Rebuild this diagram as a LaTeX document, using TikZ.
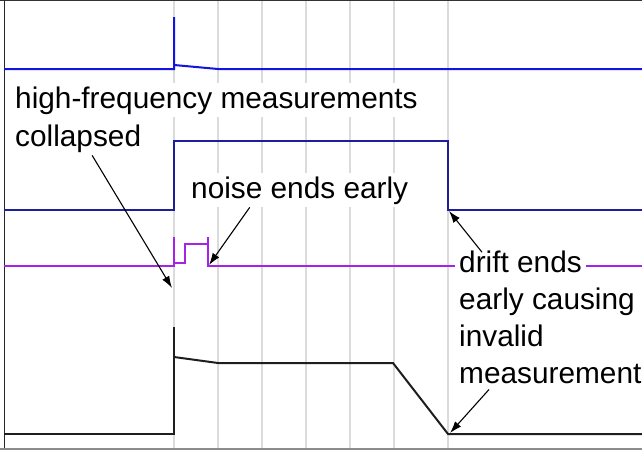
\documentclass[tikz,border=0pt]{standalone}
\usepackage{fontspec}
\setmainfont{Liberation Sans}
\usetikzlibrary{arrows.meta}

\definecolor{sigone}{RGB}{20,20,225}
\definecolor{sigtwo}{RGB}{30,30,155}
\definecolor{sigthree}{RGB}{165,35,230}
\definecolor{sigfour}{RGB}{30,30,30}

\begin{document}
\begin{tikzpicture}[x=1pt,y=-1pt,
    gridline/.style={draw=gray!28,line width=1.5pt},
    sig/.style={line width=2pt},
    lbl/.style={anchor=base west,fill=white,inner xsep=4pt,inner ysep=3pt,
      font=\fontsize{29.8pt}{36pt}\selectfont},
    callout/.style={draw=black,line width=1.1pt,-{Latex[length=12pt,width=8pt]}}]
        \useasboundingbox (0,0) rectangle (642,450);

        % grid
        \foreach \gx in {174,218,262,306,350,394,448}
          \draw[gridline] (\gx,0) -- (\gx,448);

        % frame
        \draw[draw=black!80,line width=1pt] (0,0.5) -- (642,0.5);
        \draw[draw=black!85,line width=1.5pt] (4.5,0) -- (4.5,450);
        \draw[draw=gray!90,line width=2.5pt] (0,448.8) -- (642,448.8);

        % signals
        \draw[sig,sigone] (4,69) -- (174,69) -- (174,17) -- (174,65) -- (218,69) -- (642,69);
        \draw[sig,sigtwo] (4,210) -- (174,210) -- (174,141) -- (448,141) -- (448,210) -- (642,210);
        \draw[sig,sigthree] (4,266) -- (174,266) -- (174,237);
        \draw[sig,sigthree] (174,263) -- (185,263) -- (185,244) -- (208,244);
        \draw[sig,sigthree] (208,237) -- (208,266) -- (642,266);
        \draw[sig,sigfour] (4,434) -- (174,434) -- (174,327);
        \draw[sig,sigfour] (174,357) -- (218,363) -- (393,363) -- (448,434) -- (642,434);

        % labels
        \node[lbl] (lblhigh) at (11,108) {high-frequency measurements};
        \node[lbl] (lblcol) at (11,146) {collapsed};
        \node[lbl] (lblnoise) at (187,198) {noise ends early};
        \node[lbl] (lbldrift) at (455,272) {drift ends};
        \node[lbl] (lblcaus) at (455,309) {early causing};
        \node[lbl] (lblinv) at (455,346) {invalid};
        \node[lbl] (lblmeas) at (455,383) {measurement};

        % arrow tips
        \coordinate (tipcol) at (172,288);
        \coordinate (tipnoise) at (209,265);
        \coordinate (tipdrift) at (449,211);
        \coordinate (tipmeas) at (450,433);

        \draw[callout] ([xshift=14pt]lblcol.south) -- (tipcol);
        \draw[callout] ([xshift=-50pt]lblnoise.south) -- (tipnoise);
        \draw[callout] ([xshift=27pt,yshift=-5pt]lbldrift.north west) -- (tipdrift);
        \draw[callout] ([xshift=34pt,yshift=-3pt]lblmeas.south west) -- (tipmeas);
      \end{tikzpicture}
\end{document}
